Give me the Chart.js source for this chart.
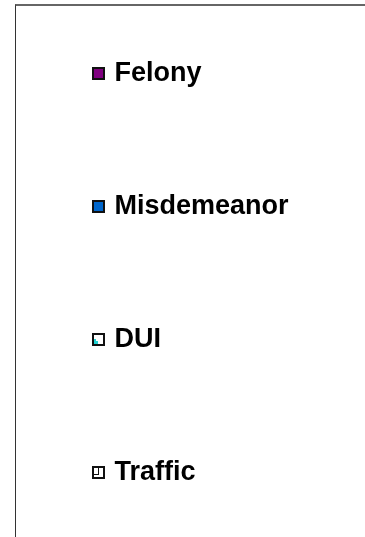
<!DOCTYPE html>
<html>
<head>
<meta charset="utf-8">
<script src="https://cdn.jsdelivr.net/npm/chart.js@4/dist/chart.umd.min.js"></script>
<style>
  html, body { margin: 0; padding: 0; background: #fff; width: 365px; height: 537px; overflow: hidden; }
  #frame { position: absolute; left: 15px; top: 4px; right: 0; bottom: 0; border-top: 2px solid #666; border-left: 1px solid #333; }
  #c { position: absolute; left: -10px; top: -46px; }
</style>
</head>
<body>
<div id="frame"></div>
<canvas id="c" width="400" height="620"></canvas>
<script>
// Legend-only view of the chart: series names and their colours
const seriesNames = ['Felony', 'Misdemeanor', 'DUI', 'Traffic'];
const seriesColors = ['#800080', '#0066CC', '#FFFFFF', '#FFFFFF'];
const seriesBorders = ['#111111', '#111111', '#111111', '#111111'];
const categories = [];
const seriesValues = [[], [], [], []];

// legend marker images (13x13 swatches with a dark frame)
function swatch(fill, extra) {
  const c = document.createElement('canvas');
  c.width = 13; c.height = 13;
  const g = c.getContext('2d');
  g.fillStyle = '#111';
  g.fillRect(0, 0, 13, 13);
  g.fillStyle = fill;
  g.fillRect(2, 2, 9, 9);
  if (extra) extra(g);
  return c;
}
const markers = [
  swatch(seriesColors[0]),
  swatch(seriesColors[1]),
  swatch(seriesColors[2], g => { g.fillStyle = '#22D3D3'; g.fillRect(2, 8, 4, 3); g.fillRect(2, 6, 2, 2); }),
  swatch(seriesColors[3], g => { g.fillStyle = '#111'; g.fillRect(6, 2, 1, 6); g.fillRect(2, 8, 5, 1); })
];

const datasets = seriesNames.map((name, i) => ({
  label: name,
  data: seriesValues[i],
  backgroundColor: seriesColors[i],
  borderColor: seriesBorders[i],
  borderWidth: 2
}));

const baseLabels = Chart.defaults.plugins.legend.labels.generateLabels;

new Chart(document.getElementById('c'), {
  type: 'bar',
  data: { labels: categories, datasets },
  options: {
    responsive: false,
    animation: false,
    layout: { padding: 0 },
    scales: { x: { display: false }, y: { display: false } },
    plugins: {
      tooltip: { enabled: false },
      legend: {
        display: true,
        position: 'top',
        align: 'start',
        maxHeight: 700,
        labels: {
          usePointStyle: true,
          boxWidth: 5,
          boxHeight: 13,
          padding: 106,
          color: '#000',
          font: { family: 'Liberation Sans, Arial, sans-serif', size: 27, weight: 'bold' },
          generateLabels: (chart) => baseLabels(chart).map((item, i) => Object.assign(item, { pointStyle: markers[i] }))
        }
      }
    }
  }
});
</script>
</body>
</html>
